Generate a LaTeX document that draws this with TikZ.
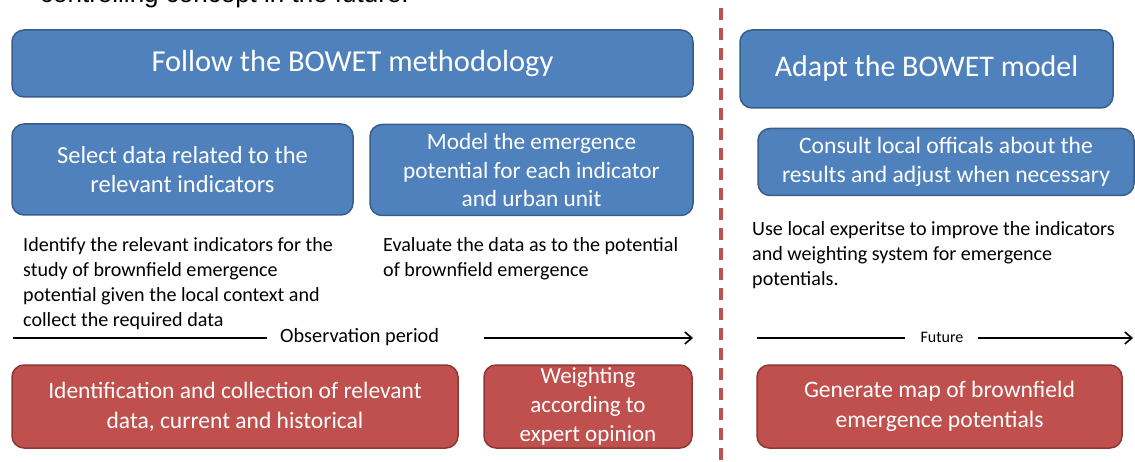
\documentclass[tikz,border=0pt]{standalone}
\usepackage{fontspec}
\setmainfont{Carlito}
\newfontfamily\arialf{Liberation Sans}
\usetikzlibrary{arrows.meta}
\definecolor{bfill}{HTML}{4F81BD}
\definecolor{bdraw}{HTML}{385D8A}
\definecolor{rfill}{HTML}{C0504D}
\definecolor{rdraw}{HTML}{8C3836}
\tikzset{
  box/.style={rounded corners=12pt, line width=1.5pt, text=white, align=center, inner sep=0pt},
  bluebox/.style={box, fill=bfill, draw=bdraw},
  redbox/.style={box, fill=rfill, draw=rdraw},
  desc/.style={anchor=north west, align=left, inner sep=0pt, text=black, font=\fontsize{20.1}{25}\selectfont},
  tline/.style={line width=1.6pt, black},
}
\begin{document}
\begin{tikzpicture}[x=1pt,y=-1pt]
\useasboundingbox (0,0) rectangle (1135,462);
\node[anchor=base west, inner sep=0pt, font=\arialf\fontsize{26}{30}\selectfont] (top) at (40,3) {controlling concept in the future.};
% divider
\coordinate (dA) at (721,8);
\coordinate (dB) at (721,462);
\draw[rfill, line width=3.5pt, dash pattern=on 12pt off 8pt] (dA) -- (dB);
% top boxes
\node[bluebox, minimum width=681pt, minimum height=67pt, font=\fontsize{30.5}{34}\selectfont] (follow) at (352.5,63.5) {Follow the BOWET methodology};
\node[bluebox, minimum width=373pt, minimum height=78pt, font=\fontsize{30}{34}\selectfont] (adapt) at (926.5,69) {Adapt the BOWET model};
% second row
\node[bluebox, minimum width=341pt, minimum height=91pt, font=\fontsize{24.5}{29}\selectfont] (select) at (182.5,169.5) {Select data related to the\\relevant indicators};
\node[bluebox, minimum width=323pt, minimum height=91pt, font=\fontsize{23.3}{28.5}\selectfont] (model) at (531.5,170) {Model the emergence\\potential for each indicator\\and urban unit};
\node[bluebox, minimum width=376pt, minimum height=67pt, font=\fontsize{23.6}{29}\selectfont] (consult) at (946,162) {Consult local officals about the\\results and adjust when necessary};
% descriptions
\node[desc] (d1) at (23,237) {Identify the relevant indicators for the\\study of brownfield emergence\\potential given the local context and\\collect the required data};
\node[desc] (d2) at (383,237) {Evaluate the data as to the potential\\of brownfield emergence};
\node[desc] (d3) at (752,221) {Use local experitse to improve the indicators\\and weighting system for emergence\\potentials.};
% timelines
\coordinate (o1) at (13,338);
\node[inner sep=0pt, anchor=west, font=\fontsize{20.3}{22}\selectfont] (obs) at (280,337) {Observation period};
\coordinate (o2) at (484,338);
\coordinate (o3) at (693,338);
\draw[tline] (o1) -- ([xshift=-13pt,yshift=-1pt]obs.west);
\draw[tline, -{Straight Barb[length=7pt,width=12pt]}] (o2) -- (o3);
\coordinate (f1) at (757,338);
\node[inner sep=0pt, font=\fontsize{16}{18}\selectfont] (fut) at (942,337) {Future};
\coordinate (f2) at (978,338);
\coordinate (f3) at (1133,338);
\draw[tline] (f1) -- ([xshift=-15pt,yshift=-1pt]fut.west);
\draw[tline, -{Straight Barb[length=7pt,width=12pt]}] (f2) -- (f3);
% red boxes
\node[redbox, minimum width=446pt, minimum height=83pt, font=\fontsize{23.5}{30}\selectfont] (ident) at (235,406.5) {Identification and collection of relevant\\data, current and historical};
\node[redbox, minimum width=208pt, minimum height=83pt, font=\fontsize{23}{29}\selectfont] (weight) at (588,406.5) {Weighting\\according to\\expert opinion};
\node[redbox, minimum width=365pt, minimum height=83pt, font=\fontsize{23.6}{30}\selectfont] (gen) at (939.5,406.5) {Generate map of brownfield\\emergence potentials};
\end{tikzpicture}
\end{document}
